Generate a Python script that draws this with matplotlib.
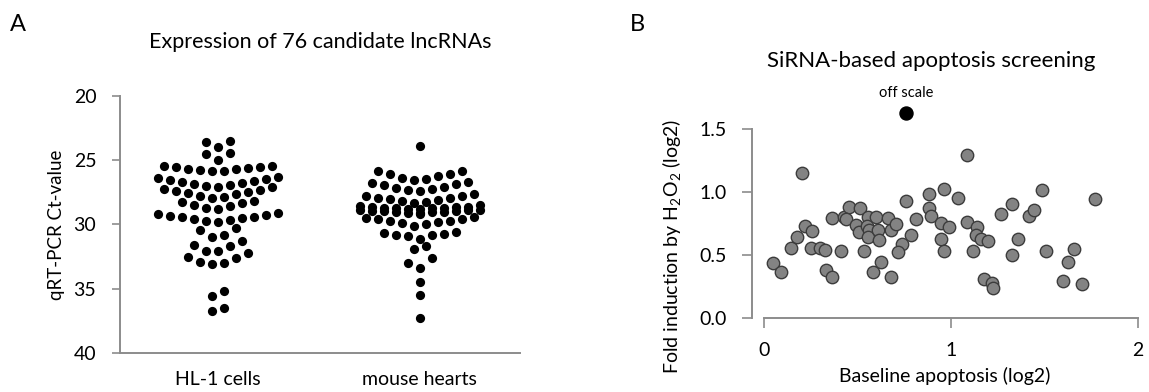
import numpy as np
import matplotlib
matplotlib.use('Agg')
import matplotlib.pyplot as plt

plt.rcParams['font.family'] = ['Lato', 'DejaVu Sans']
plt.rcParams['mathtext.fontset'] = 'custom'
plt.rcParams['mathtext.rm'] = 'Lato'
plt.rcParams['mathtext.it'] = 'Lato'
plt.rcParams['mathtext.bf'] = 'Lato'

# panel A: Ct values per lncRNA
groups = ['HL-1 cells', 'mouse hearts']
hl1_ct = [23.5, 23.55, 23.95,
          24.45, 24.55, 24.95,
          25.42, 25.45, 25.5, 25.55, 25.6, 25.65, 25.7, 25.75, 25.8, 25.84,
          26.28, 26.35, 26.45, 26.55, 26.62, 26.7, 26.78, 26.85, 26.92, 27.0, 27.06,
          27.12, 27.2, 27.3, 27.4, 27.5, 27.58, 27.65, 27.75, 27.85, 27.92,
          28.15, 28.25, 28.35, 28.45, 28.55, 28.7, 28.8,
          29.13, 29.18, 29.25, 29.3, 29.38, 29.45, 29.5, 29.58, 29.65, 29.72, 29.78,
          30.25, 30.4, 30.8, 30.95,
          31.3, 31.6, 31.7, 32.05, 32.1,
          32.25, 32.5, 32.6, 32.9, 33.0, 33.05,
          35.2, 35.6,
          36.5, 36.7]
heart_ct = [23.9,
            25.8, 25.8, 26.05, 26.1, 26.25, 26.35, 26.45, 26.55,
            26.7, 26.8, 26.85, 26.95, 27.05, 27.15, 27.2, 27.3, 27.4,
            27.6, 27.75, 27.8, 27.9, 27.95, 28.0, 28.1, 28.2, 28.25, 28.3,
            28.5, 28.55, 28.6, 28.62, 28.65, 28.68, 28.7, 28.72, 28.75, 28.78, 28.8,
            28.85, 28.88, 28.9, 28.92, 28.95, 28.98, 29.0, 29.02, 29.05, 29.08, 29.1,
            29.18,
            29.45, 29.5, 29.55, 29.6, 29.7, 29.75, 29.8, 29.85, 29.95, 30.1,
            30.6, 30.7, 30.75, 30.8, 30.85, 30.9, 31.1,
            31.7, 31.9,
            32.6, 33.0, 33.35,
            34.5, 35.5, 37.3]

# panel B: siRNA screen
baseline = [0.205, 0.046, 0.089, 0.142, 0.174, 0.222, 0.258, 0.253, 0.298, 0.328,
            0.333, 0.363, 0.366, 0.414, 0.428, 0.456, 0.439, 0.492, 0.513, 0.510,
            0.535, 0.558, 0.549, 0.563, 0.554, 0.599, 0.608, 0.617, 0.584, 0.628,
            0.665, 0.678, 0.678, 0.706, 0.736, 0.718, 0.758, 1.087, 0.884, 0.964,
            1.036, 0.884, 0.895, 0.815, 0.947, 0.989, 1.087, 1.137, 1.133, 1.163,
            1.198, 0.947, 0.964, 1.116, 0.788, 1.178, 1.221, 1.226, 1.267, 1.328,
            1.357, 1.328, 1.417, 1.446, 1.489, 1.508, 1.658, 1.628, 1.597, 1.699,
            1.770]
induction = [1.156, 0.436, 0.370, 0.560, 0.648, 0.733, 0.695, 0.560, 0.560, 0.542,
             0.383, 0.330, 0.798, 0.537, 0.806, 0.886, 0.786, 0.740, 0.873, 0.687,
             0.537, 0.806, 0.733, 0.701, 0.648, 0.806, 0.701, 0.621, 0.370, 0.444,
             0.794, 0.701, 0.330, 0.748, 0.590, 0.529, 0.931, 1.296, 0.986, 1.026,
             0.952, 0.873, 0.812, 0.788, 0.759, 0.727, 0.767, 0.722, 0.661, 0.627,
             0.616, 0.627, 0.537, 0.537, 0.661, 0.312, 0.278, 0.238, 0.828, 0.907,
             0.627, 0.502, 0.815, 0.860, 1.018, 0.537, 0.548, 0.444, 0.298, 0.272,
             0.947]
off_scale = (0.758, 1.63)

AXIS_GREY = '#8c8c8c'


def column_scatter(values, center, binw=0.8, step=0.0594, maxrow=11):
  # prism-like column scatter: values binned into rows, biggest in the middle
  v = np.sort(np.asarray(values))
  rows = []
  cur = [v[0]]
  for val in v[1:]:
    if val - cur[0] <= binw + 1e-9:
      cur.append(val)
    else:
      rows.append(cur)
      cur = [val]
  rows.append(cur)

  xs, ys = [], []
  for row in rows:
    for k in range(0, len(row), maxrow):
      chunk = sorted(row[k:k + maxrow], reverse=True)
      n = len(chunk)
      slots = sorted(np.arange(n) - (n - 1) / 2, key=lambda s: (abs(s), s))
      for s, val in zip(slots, chunk):
        xs.append(center + s * step)
        ys.append(val)
  return xs, ys


fig = plt.figure(figsize=(11.49, 3.92), dpi=100)

# ---- panel A
ax1 = fig.add_axes([0.1044, 0.0995, 0.3481, 0.6556])
for i, vals in enumerate([hl1_ct, heart_ct]):
  xs, ys = column_scatter(vals, i)
  ax1.scatter(xs, ys, s=44, color='black', linewidths=0, zorder=3)

ax1.set_xlim(-0.485, 1.495)
ax1.set_ylim(40, 20)
ax1.set_yticks([20, 25, 30, 35, 40])
ax1.set_xticks([0, 1])
ax1.set_xticklabels(groups)
ax1.tick_params(axis='x', length=0, pad=13, labelsize=14)
ax1.tick_params(axis='y', length=6, width=1.2, color=AXIS_GREY, pad=11, labelsize=14)
ax1.set_ylabel('qRT-PCR Ct-value', fontsize=13.5, labelpad=6)
for side in ['top', 'right']:
  ax1.spines[side].set_visible(False)
for side in ['left', 'bottom']:
  ax1.spines[side].set_color(AXIS_GREY)
  ax1.spines[side].set_linewidth(1.4)
fig.text(0.2785, 0.893, 'Expression of 76 candidate lncRNAs', ha='center',
         va='center', fontsize=15.5)

# ---- panel B
ax2 = fig.add_axes([0.6545, 0.188, 0.3359, 0.482])
ax2.scatter(baseline, induction, s=80, facecolor='#838383', edgecolor='#3c3c3c',
            linewidths=1.0, zorder=3)
ax2.scatter([off_scale[0]], [off_scale[1]], s=88, color='black', clip_on=False,
            zorder=4)
ax2.annotate('off scale', off_scale, xytext=(0, 9), textcoords='offset points',
             ha='center', va='bottom', fontsize=10.5, annotation_clip=False)

ax2.set_xlim(-0.064, 2.0)
ax2.set_ylim(0, 1.5)
ax2.set_xticks([0, 1, 2])
ax2.set_yticks([0.0, 0.5, 1.0, 1.5])
ax2.set_yticklabels(['0.0', '0.5', '1.0', '1.5'])
ax2.tick_params(length=7, width=1.2, color=AXIS_GREY, labelsize=14)
ax2.tick_params(axis='x', pad=10)
ax2.tick_params(axis='y', pad=11)
for side in ['top', 'right']:
  ax2.spines[side].set_visible(False)
for side in ['left', 'bottom']:
  ax2.spines[side].set_color(AXIS_GREY)
  ax2.spines[side].set_linewidth(1.4)
ax2.spines['bottom'].set_bounds(0, 2)
ax2.set_xlabel('Baseline apoptosis (log2)', fontsize=14, labelpad=6)
ax2.set_ylabel('Fold induction by H$_2$O$_2$ (log2)', fontsize=14)
ax2.yaxis.set_label_coords(-0.18, 0.38)

fig.text(0.81, 0.845, 'SiRNA-based apoptosis screening', ha='center',
         va='center', fontsize=16)

fig.text(0.009, 0.92, 'A', fontsize=17, va='baseline')
fig.text(0.548, 0.92, 'B', fontsize=17, va='baseline')

fig.savefig('out.png', dpi=100)
